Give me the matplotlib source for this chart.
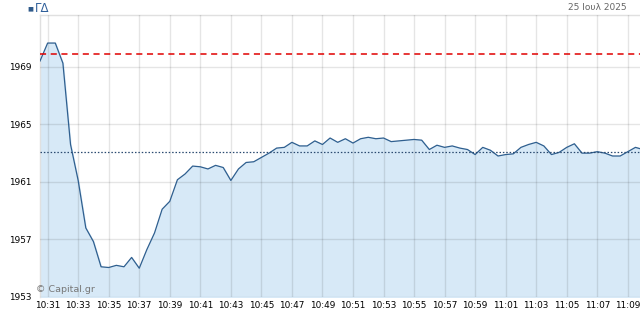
import matplotlib
matplotlib.use("Agg")
import matplotlib.pyplot as plt
import matplotlib.dates as mdates
import pandas as pd

# ΓΔ intraday, one value every 30 seconds from 10:30:30
start = "2025-07-25 10:30:30"
values = [1969.4, 1970.65, 1970.65, 1969.25, 1963.6, 1961.1, 1957.8, 1956.85,
          1955.1, 1955.05, 1955.2, 1955.1, 1955.75, 1955.0, 1956.3, 1957.45,
          1959.1, 1959.65, 1961.15, 1961.55, 1962.1, 1962.05, 1961.9, 1962.15,
          1962.0, 1961.1, 1961.9, 1962.35, 1962.4, 1962.7, 1963.0, 1963.35,
          1963.4, 1963.75, 1963.5, 1963.5, 1963.85, 1963.6, 1964.05, 1963.75,
          1964.0, 1963.7, 1964.0, 1964.1, 1964.0, 1964.05, 1963.8, 1963.85,
          1963.9, 1963.95, 1963.9, 1963.25, 1963.55, 1963.4, 1963.5, 1963.35,
          1963.25, 1962.9, 1963.4, 1963.2, 1962.8, 1962.9, 1962.95, 1963.4,
          1963.6, 1963.75, 1963.5, 1962.9, 1963.05, 1963.4, 1963.65, 1963.0,
          1963.0, 1963.1, 1963.0, 1962.8, 1962.8, 1963.1, 1963.4, 1963.25]
prev_close = 1963.1
high_line = 1969.9
y_ticks = [1953, 1957, 1961, 1965, 1969]
date_label = "25 Ιουλ 2025"
series_name = "ΓΔ"

times = pd.date_range(start, periods=len(values), freq="30s")

fig = plt.figure(figsize=(6.4, 3.13), dpi=100)
ax = fig.add_axes([40/640, 16/313, 600/640, 282/313])

ax.fill_between(times, values, 1953, color="#d7e9f7", zorder=1)
ax.plot(times, values, color="#2f5f8f", lw=0.9, zorder=3)
ax.axhline(high_line, color="#e00000", lw=1.1, ls=(0, (4, 3)), zorder=4)
ax.axhline(prev_close, color="#2a4a70", lw=0.9, ls=(0, (1.2, 1.5)), zorder=4)

ax.set_ylim(1953, 1972.6)
ax.set_xlim(times[0], pd.Timestamp("2025-07-25 11:09:48"))
ax.set_yticks(y_ticks)
ax.xaxis.set_major_locator(mdates.MinuteLocator(byminute=range(1, 60, 2)))
ax.xaxis.set_major_formatter(mdates.DateFormatter("%H:%M"))
ax.tick_params(length=0, labelsize=6.4, pad=3, colors="black")
ax.tick_params(axis="y", pad=6)
ax.grid(True, color="black", alpha=0.1, lw=1, zorder=2)
ax.set_axisbelow(False)
for s in ax.spines.values():
    s.set_color("#e0e0e0")
    s.set_linewidth(1)
ax.spines["bottom"].set_visible(False)
ax.spines["right"].set_visible(False)

# legend and date at the top
fig.text(27/640, 1 - 8.5/313, "■", color="#2f5a8a", fontsize=4.5, va="center")
fig.text(35/640, 1 - 8/313, series_name, color="#2f5f9a", fontsize=8.5, va="center")
fig.text(627/640, 1 - 8/313, date_label, color="#666666", fontsize=6.5,
         va="center", ha="right")
fig.text(36/640, 1 - 289/313, "© Capital.gr", color="#777777", fontsize=6.8,
         va="center")

fig.savefig("out.png", dpi=100)
